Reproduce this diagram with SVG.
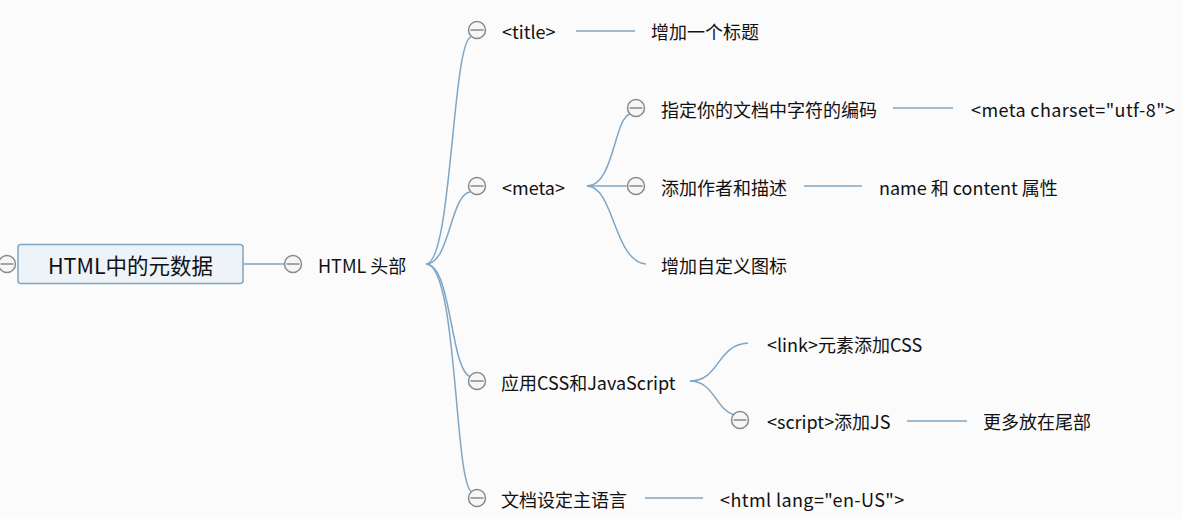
<svg xmlns="http://www.w3.org/2000/svg" width="1182" height="519" viewBox="0 0 1182 519">
<style>
text{font-family:"Noto Sans CJK SC","Liberation Sans",sans-serif;font-size:18px;fill:#111;dominant-baseline:central}
.c{fill:none;stroke:#7fa6c4;stroke-width:1.5}
.t circle{fill:#f6f6f6;stroke:#8a8a8a;stroke-width:1.5}
.t line{stroke:#8a8a8a;stroke-width:1.5}
</style>
<defs>
<g id="tog" class="t"><circle r="8.5"/><line x1="-6.5" y1="0" x2="6.5" y2="0"/></g>
</defs>
<rect width="1182" height="519" fill="#fbfbfc"/>
<g id="connectors">
<path class="c" d="M243,264H285"/>
<path class="c" d="M426,264C452,264 452,42 471,37"/>
<path class="c" d="M426,264C450,264 450,195 470,192"/>
<path class="c" d="M426,264C452,264 450,372 471,377"/>
<path class="c" d="M426,264C458,264 454,486 472,492"/>
<path class="c" d="M576,31H635"/>
<path class="c" d="M587,186C614,186 614,118 630,114"/>
<path class="c" d="M587,186H628"/>
<path class="c" d="M587,186C614,186 614,262 646,264"/>
<path class="c" d="M893,108H953"/>
<path class="c" d="M804,186H862"/>
<path class="c" d="M690,381C720,381 716,345 748,343"/>
<path class="c" d="M690,381C714,381 716,410 734,415"/>
<path class="c" d="M907,421H967"/>
<path class="c" d="M645,498H703"/>
</g>
<g id="root">
<use href="#tog" x="7" y="264"/>
<rect x="18" y="244.5" width="225" height="39" rx="3" fill="#eef3f8" stroke="#7fa6c4" stroke-width="1.5"/>
<text x="130.5" y="264" text-anchor="middle" style="font-size:21.5px">HTML中的元数据</text>
</g>
<g id="n-head"><use href="#tog" x="293" y="264"/><text x="318" y="265">HTML 头部</text></g>
<g id="n-title"><use href="#tog" x="477" y="30"/><text x="502" y="31">&lt;title&gt;</text></g>
<g id="n-title-d"><text x="651" y="31">增加一个标题</text></g>
<g id="n-meta"><use href="#tog" x="477" y="186"/><text x="502" y="187">&lt;meta&gt;</text></g>
<g id="n-charset"><use href="#tog" x="636" y="108"/><text x="661" y="109">指定你的文档中字符的编码</text></g>
<g id="n-charset-d"><text x="971" y="109" letter-spacing="0.4">&lt;meta charset="utf-8"&gt;</text></g>
<g id="n-author"><use href="#tog" x="636" y="186"/><text x="661" y="187">添加作者和描述</text></g>
<g id="n-author-d"><text x="879" y="187">name 和 content 属性</text></g>
<g id="n-icon"><text x="661" y="265">增加自定义图标</text></g>
<g id="n-css"><use href="#tog" x="477" y="381"/><text x="501" y="382">应用CSS和JavaScript</text></g>
<g id="n-link"><text x="767" y="344">&lt;link&gt;元素添加CSS</text></g>
<g id="n-script"><use href="#tog" x="740" y="420"/><text x="767" y="421">&lt;script&gt;添加JS</text></g>
<g id="n-script-d"><text x="983" y="421">更多放在尾部</text></g>
<g id="n-lang"><use href="#tog" x="477" y="498"/><text x="501" y="499">文档设定主语言</text></g>
<g id="n-lang-d"><text x="720" y="499" letter-spacing="0.4">&lt;html lang="en-US"&gt;</text></g>
</svg>
